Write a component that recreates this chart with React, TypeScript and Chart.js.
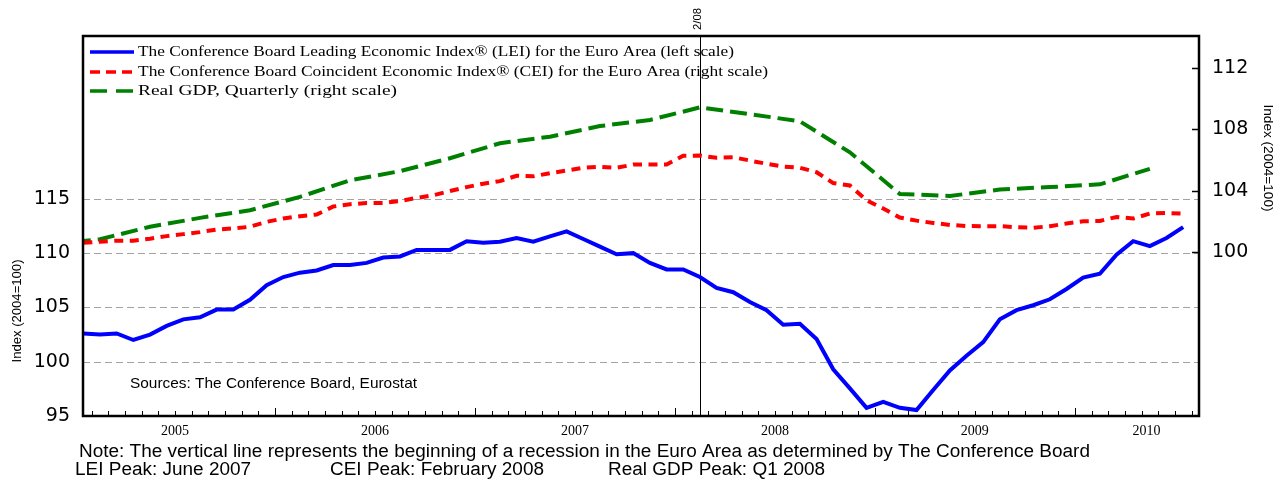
import React, { useEffect, useRef } from "react";
import { Chart, registerables } from "chart.js";

Chart.register(...registerables);

// ---------------- data ----------------
const startYear = 2005; // first monthly observation = Jan 2005

// The Conference Board LEI for the Euro Area (left scale), monthly Jan 2005 - Jul 2010
const leiValues = [
  102.6, 102.5, 102.6, 102.0, 102.5, 103.3, 103.9, 104.1, 104.8, 104.8, 105.7, 107.05,
  107.8, 108.2, 108.4, 108.9, 108.9, 109.1, 109.6, 109.7, 110.3, 110.3, 110.3, 111.1,
  110.95, 111.05, 111.4, 111.05, 111.55, 112.0, 111.3, 110.6, 109.9, 110.0, 109.1, 108.5,
  108.5, 107.8, 106.8, 106.4, 105.5, 104.75, 103.4, 103.5, 102.1, 99.3, 97.55, 95.75,
  96.3, 95.75, 95.55, 97.4, 99.2, 100.55, 101.8, 103.9, 104.75, 105.2, 105.75, 106.7,
  107.75, 108.1, 109.85, 111.1, 110.65, 111.4, 112.4,
];

// The Conference Board CEI for the Euro Area (right scale), monthly Jan 2005 - Jul 2010
const ceiValues = [
  100.6, 100.67, 100.74, 100.74, 100.87, 101.04, 101.17, 101.3, 101.47, 101.54, 101.65, 101.97,
  102.19, 102.34, 102.45, 102.97, 103.12, 103.2, 103.2, 103.33, 103.53, 103.7, 103.98, 104.24,
  104.46, 104.63, 104.98, 104.94, 105.15, 105.32, 105.5, 105.56, 105.5, 105.71, 105.71, 105.71,
  106.28, 106.3, 106.15, 106.19, 105.97, 105.76, 105.58, 105.5, 105.21, 104.5, 104.35, 103.38,
  102.84, 102.25, 102.05, 101.9, 101.77, 101.7, 101.69, 101.69, 101.62, 101.58, 101.69, 101.86,
  102.01, 102.03, 102.29, 102.19, 102.51, 102.55, 102.51,
];

// Real GDP, quarterly (right scale)
const gdpQuarters = [
  "2004Q4", "2005Q1", "2005Q2", "2005Q3", "2005Q4", "2006Q1", "2006Q2", "2006Q3",
  "2006Q4", "2007Q1", "2007Q2", "2007Q3", "2007Q4", "2008Q1", "2008Q2", "2008Q3",
  "2008Q4", "2009Q1", "2009Q2", "2009Q3", "2009Q4", "2010Q1", "2010Q2",
];
const gdpValues = [
  100.5, 100.84, 101.65, 102.23, 102.73, 103.6, 104.68, 105.28,
  106.12, 107.1, 107.53, 108.22, 108.62, 109.44, 109.0, 108.53,
  106.51, 103.79, 103.66, 104.08, 104.24, 104.42, 105.43,
];

const yearLabels = ["2005", "2006", "2007", "2008", "2009", "2010"];
const leftTickValues = [95, 100, 105, 110, 115];
const leftGridValues = [100, 105, 110, 115];
const rightTickValues = [100, 104, 108, 112];
const recessionStart = "2008-02";
const recessionLabel = "2/08";

const legendLabels = [
  "The Conference Board Leading Economic Index® (LEI) for the Euro Area (left scale)",
  "The Conference Board Coincident Economic Index® (CEI) for the Euro Area (right scale)",
  "Real GDP, Quarterly (right scale)",
];
const axisTitle = "Index (2004=100)";
const sourceText = "Sources: The Conference Board, Eurostat";
const noteText =
  "Note: The vertical line represents the beginning of a recession in the Euro Area as determined by The Conference Board";
const peakTexts = ["LEI Peak: June 2007", "CEI Peak: February 2008", "Real GDP Peak: Q1 2008"];

// ---------------- helpers ----------------
const monthIndex = (ym: string) => {
  const [y, m] = ym.split("-").map(Number);
  return (y - startYear) * 12 + (m - 1);
};
const quarterIndex = (q: string) => {
  const y = Number(q.slice(0, 4));
  const n = Number(q.slice(5));
  return (y - startYear) * 12 + (n - 1) * 3 + 1; // mid-quarter month
};

const X_MIN = -0.02;
const X_MAX = 66.95;

function drawScaled(
  ctx: CanvasRenderingContext2D,
  text: string,
  x: number,
  y: number,
  sx: number,
  font: string
) {
  ctx.save();
  ctx.font = font;
  ctx.translate(x, y);
  ctx.scale(sx, 1);
  ctx.textAlign = "left";
  ctx.fillText(text, 0, 0);
  ctx.restore();
}

function fitText(
  ctx: CanvasRenderingContext2D,
  text: string,
  x: number,
  y: number,
  width: number,
  font: string,
  align: "left" | "center" = "left"
) {
  ctx.save();
  ctx.font = font;
  const w = ctx.measureText(text).width;
  ctx.restore();
  drawScaled(ctx, text, align === "center" ? x - width / 2 : x, y, width / w, font);
}

const decorPlugin = {
  id: "decor",
  beforeDatasetsDraw(chart: any) {
    const { ctx, chartArea: a, scales } = chart;
    ctx.save();
    // dashed grid lines (left scale)
    ctx.strokeStyle = "#a3a3a3";
    ctx.lineWidth = 1;
    ctx.setLineDash([7, 4]);
    for (const v of leftGridValues) {
      const py = Math.round(scales.y.getPixelForValue(v)) + 0.5;
      ctx.beginPath();
      ctx.moveTo(a.left, py);
      ctx.lineTo(a.right, py);
      ctx.stroke();
    }
    // recession line
    ctx.setLineDash([]);
    ctx.strokeStyle = "#000";
    const px = Math.round(scales.x.getPixelForValue(monthIndex(recessionStart))) + 0.5;
    ctx.beginPath();
    ctx.moveTo(px, a.top);
    ctx.lineTo(px, a.bottom);
    ctx.stroke();
    ctx.restore();
  },
  afterDatasetsDraw(chart: any) {
    const { ctx, chartArea: a, scales } = chart;
    ctx.save();
    // frame
    ctx.strokeStyle = "#000";
    ctx.lineWidth = 2.5;
    ctx.strokeRect(a.left, a.top, a.right - a.left, a.bottom - a.top);

    // bottom month / year ticks
    ctx.lineWidth = 1;
    for (let k = 0; k <= 68; k++) {
      const m = k - 0.5;
      if (m <= X_MIN || m >= X_MAX) continue;
      const px = Math.round(scales.x.getPixelForValue(m)) + 0.5;
      const major = k % 12 === 0;
      ctx.beginPath();
      ctx.moveTo(px, a.bottom);
      ctx.lineTo(px, a.bottom - (major ? 8 : 5));
      ctx.stroke();
    }
    // right axis inward ticks
    ctx.lineWidth = 1.5;
    for (const v of rightTickValues) {
      const py = Math.round(scales.y1.getPixelForValue(v)) + 0.5;
      ctx.beginPath();
      ctx.moveTo(a.right - 7, py);
      ctx.lineTo(a.right, py);
      ctx.stroke();
    }

    // legend
    const rows = [
      { y: 52, color: "#0000ff", dash: [] as number[], end: 734 },
      { y: 72, color: "#ff0000", dash: [10, 6], end: 768 },
      { y: 91, color: "#008000", dash: [17, 9], end: 397 },
    ];
    rows.forEach((r, i) => {
      ctx.save();
      ctx.strokeStyle = r.color;
      ctx.lineWidth = 3.5;
      ctx.setLineDash(r.dash);
      ctx.beginPath();
      ctx.moveTo(90, r.y);
      ctx.lineTo(134, r.y);
      ctx.stroke();
      ctx.restore();
      ctx.fillStyle = "#000";
      ctx.textBaseline = "middle";
      fitText(ctx, legendLabels[i], 138, r.y, r.end - 138, '15px "Liberation Serif"');
    });

    // sources
    ctx.fillStyle = "#000";
    ctx.textBaseline = "alphabetic";
    fitText(ctx, sourceText, 130, 388, 287, '15px "Liberation Sans"');

    // notes
    const nf = '18px "Liberation Sans"';
    ctx.font = nf;
    const areaIdx = noteText.indexOf("Area");
    const prefixW = ctx.measureText(noteText.slice(0, areaIdx)).width;
    const noteX = 79;
    const sNote = (702 - noteX) / prefixW;
    drawScaled(ctx, noteText, noteX, 457, sNote, nf);

    // peaks line
    drawScaled(ctx, peakTexts[0], 75, 475, sNote, nf);
    drawScaled(ctx, peakTexts[1], 330, 475, sNote, nf);
    drawScaled(ctx, peakTexts[2], 608, 475, sNote, nf);

    // axis titles
    ctx.textBaseline = "middle";
    ctx.save();
    ctx.translate(17.5, 311);
    ctx.rotate(-Math.PI / 2);
    fitText(ctx, axisTitle, 0, 0, 103, '12px "Liberation Sans"', "center");
    ctx.restore();
    ctx.save();
    ctx.translate(1267.5, 158);
    ctx.rotate(Math.PI / 2);
    fitText(ctx, axisTitle, 0, 0, 107, '12px "Liberation Sans"', "center");
    ctx.restore();

    // recession label
    const lx = scales.x.getPixelForValue(monthIndex(recessionStart));
    ctx.save();
    ctx.translate(lx - 2, 19);
    ctx.rotate(-Math.PI / 2);
    fitText(ctx, recessionLabel, 0, 0, 22, '11px "Liberation Sans"', "center");
    ctx.restore();

    ctx.restore();
  },
};

export default function App() {
  const canvasRef = useRef<HTMLCanvasElement | null>(null);

  useEffect(() => {
    const canvas = canvasRef.current;
    if (!canvas) return;
    const yearPos = [5.5, 17.5, 29.5, 41.5, 53.5, 63.8];
    const chart = new Chart(canvas, {
      type: "line",
      data: {
        datasets: [
          {
            label: "LEI",
            data: leiValues.map((v, i) => ({ x: i, y: v })),
            yAxisID: "y",
            borderColor: "#0000ff",
            borderWidth: 4,
            pointRadius: 0,
            tension: 0,
          },
          {
            label: "CEI",
            data: ceiValues.map((v, i) => ({ x: i, y: v })),
            yAxisID: "y1",
            borderColor: "#ff0000",
            borderDash: [9, 6.5],
            borderWidth: 4,
            pointRadius: 0,
            tension: 0,
          },
          {
            label: "GDP",
            data: gdpQuarters.map((q, i) => ({ x: quarterIndex(q), y: gdpValues[i] })),
            yAxisID: "y1",
            borderColor: "#008000",
            borderDash: [17, 7],
            borderWidth: 4,
            pointRadius: 0,
            tension: 0,
          },
        ],
      },
      options: {
        animation: false,
        responsive: false,
        devicePixelRatio: 1,
        events: [],
        layout: { padding: { top: 36, left: 0, right: 0, bottom: 0 } },
        plugins: {
          legend: { display: false },
          tooltip: { enabled: false },
          title: { display: false },
        },
        scales: {
          x: {
            type: "linear",
            position: "bottom",
            min: X_MIN,
            max: X_MAX,
            grid: { display: false, drawTicks: false },
            border: { display: false },
            afterBuildTicks: (s: any) => {
              s.ticks = yearPos.map((v) => ({ value: v }));
            },
            afterFit: (s: any) => {
              s.height = 66;
            },
            ticks: {
              autoSkip: false,
              maxRotation: 0,
              minRotation: 0,
              padding: 7,
              color: "#000",
              font: { family: '"Liberation Serif"', size: 14 },
              callback: (_v: any, i: number) => yearLabels[i],
            },
          },
          y: {
            type: "linear",
            position: "left",
            min: 95,
            max: 130,
            grid: { display: false, drawTicks: false },
            border: { display: false },
            afterBuildTicks: (s: any) => {
              s.ticks = leftTickValues.map((v) => ({ value: v }));
            },
            afterFit: (s: any) => {
              s.width = 83;
            },
            ticks: {
              padding: 13,
              color: "#000",
              font: { family: '"DejaVu Sans"', size: 19 },
              callback: (v: any) => String(v),
            },
          },
          y1: {
            type: "linear",
            position: "right",
            min: 89.3,
            max: 114.1,
            grid: { display: false, drawTicks: false },
            border: { display: false },
            afterBuildTicks: (s: any) => {
              s.ticks = rightTickValues.map((v) => ({ value: v }));
            },
            afterFit: (s: any) => {
              s.width = 79;
            },
            ticks: {
              padding: 13,
              color: "#000",
              font: { family: '"DejaVu Sans"', size: 19 },
              callback: (v: any) => String(v),
            },
          },
        },
      } as any,
      plugins: [decorPlugin],
    });
    return () => chart.destroy();
  }, []);

  return (
    <div
      style={{
        position: "absolute",
        left: 0,
        top: 0,
        width: 1278,
        height: 482,
        background: "#fff",
      }}
    >
      <canvas ref={canvasRef} width={1278} height={482} style={{ display: "block" }} />
    </div>
  );
}
